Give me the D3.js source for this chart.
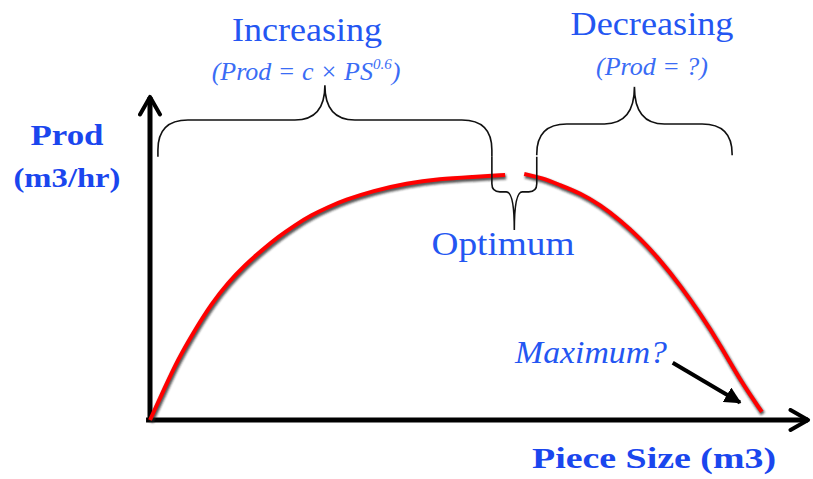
<!DOCTYPE html>
<html lang="en">
<head>
<meta charset="UTF-8">
<title>Prod vs Piece Size</title>
<script src="https://d3js.org/d3.v7.min.js"></script>
<style>
  body { margin: 0; background: #fff; }
</style>
</head>
<body>
<div id="chart"></div>
<script>
// curve values, in percent of each axis length
const risingSize = [0, 2.3, 4.2, 6.8, 9.4, 11.8, 14.4, 17.0, 19.4, 22.0, 24.5, 27.0, 29.5, 33.8, 38.9, 43.9, 48.9, 53.8];
const risingProd = [0, 10.2, 18.5, 27.7, 36.0, 42.2, 47.7, 52.3, 56.3, 60.0, 63.1, 65.5, 67.7, 70.5, 72.9, 74.2, 74.8, 75.4];
const fallingSize = [56.7, 59.4, 62.1, 65.2, 68.2, 71.2, 74.2, 77.3, 80.3, 83.3, 86.4, 89.4, 92.7];
const fallingProd = [75.7, 74.5, 72.3, 69.8, 66.2, 61.5, 56.0, 49.2, 41.5, 32.9, 23.1, 12.3, 2.5];

// braces: [from, to] in x (percent)
const braceLeft = [1.2, 51.8];
const braceRight = [58.6, 88.2];
const braceOptimum = [51.8, 58.6];

const width = 813, height = 479;
const serif = "'Liberation Serif', 'Times New Roman', Times, serif";
const blue = "#2456f2";
const boldBlue = "#1a46ee";

const x = d3.scaleLinear().domain([0, 100]).range([150, 810]);
const y = d3.scaleLinear().domain([0, 100]).range([420, 95]);

const svg = d3.select("#chart").append("svg")
  .attr("width", width)
  .attr("height", height);

const defs = svg.append("defs");
defs.append("filter").attr("id", "blur")
  .append("feGaussianBlur").attr("stdDeviation", 0.9);

defs.append("marker")
  .attr("id", "chev")
  .attr("viewBox", "0 0 10 10")
  .attr("refX", 8).attr("refY", 5)
  .attr("markerWidth", 5).attr("markerHeight", 5)
  .attr("markerUnits", "strokeWidth")
  .attr("orient", "auto")
  .append("path")
  .attr("d", "M1,1 L8,5 L1,9")
  .attr("fill", "none")
  .attr("stroke", "#000")
  .attr("stroke-width", 1.6)
  .attr("stroke-linecap", "round")
  .attr("stroke-linejoin", "round");

defs.append("marker")
  .attr("id", "tri")
  .attr("viewBox", "0 0 10 10")
  .attr("refX", 9).attr("refY", 5)
  .attr("markerWidth", 4.2).attr("markerHeight", 4.2)
  .attr("markerUnits", "strokeWidth")
  .attr("orient", "auto")
  .append("path")
  .attr("d", "M0,0 L10,5 L0,10 Z")
  .attr("fill", "#000");

// axes, without ticks
const xAxis = svg.append("g")
  .attr("transform", `translate(0,${y(0)})`)
  .call(d3.axisBottom(x).tickValues([]).tickSizeOuter(0));
const yAxis = svg.append("g")
  .attr("transform", `translate(${x(0)},0)`)
  .call(d3.axisLeft(y).tickValues([]).tickSizeOuter(0));

xAxis.select(".domain")
  .attr("d", `M${x(-0.6)},0 H${x(99.7)}`)
  .attr("stroke-width", 5)
  .attr("marker-end", "url(#chev)");
yAxis.select(".domain")
  .attr("d", `M0,${y(-0.6)} V${y(99.4)}`)
  .attr("stroke-width", 5)
  .attr("marker-end", "url(#chev)");

// production curve
const line = d3.line()
  .x(d => x(d[0]))
  .y(d => y(d[1]))
  .curve(d3.curveBasis);

const rising = d3.zip(risingSize, risingProd);
const falling = d3.zip(fallingSize, fallingProd);

[rising, falling].forEach(pts => {
  svg.append("path")
    .attr("d", line(pts))
    .attr("fill", "none")
    .attr("stroke", "#222")
    .attr("stroke-opacity", 0.75)
    .attr("stroke-width", 5)
    .attr("filter", "url(#blur)")
    .attr("transform", "translate(1,2)");
  svg.append("path")
    .attr("d", line(pts))
    .attr("fill", "none")
    .attr("stroke", "#ff0000")
    .attr("stroke-width", 4);
});

// curly brace between x1 and x2, arms end at yEnd, bar at yBar, tip at yTip
function brace(x1, x2, yEnd, yBar, yTip, r) {
  const xm = (x1 + x2) / 2;
  const s = yBar > yEnd ? 1 : -1;
  const p = d3.path();
  p.moveTo(x1, yEnd);
  p.lineTo(x1, yBar - s * r);
  p.quadraticCurveTo(x1, yBar, x1 + r, yBar);
  p.lineTo(xm - r, yBar);
  p.bezierCurveTo(xm - r * 0.3, yBar, xm, yBar + (yTip - yBar) * 0.35, xm, yTip);
  p.bezierCurveTo(xm, yBar + (yTip - yBar) * 0.35, xm + r * 0.3, yBar, xm + r, yBar);
  p.lineTo(x2 - r, yBar);
  p.quadraticCurveTo(x2, yBar, x2, yBar - s * r);
  p.lineTo(x2, yEnd);
  return p.toString();
}

const braceStyle = sel => sel.attr("fill", "none").attr("stroke", "#111").attr("stroke-width", 1.6);

svg.append("path")
  .attr("d", brace(x(braceLeft[0]), x(braceLeft[1]), y(81), y(92.3), y(103), 30))
  .call(braceStyle);
svg.append("path")
  .attr("d", brace(x(braceRight[0]), x(braceRight[1]), y(81.5), y(91.1), y(102.5), 30))
  .call(braceStyle);
svg.append("path")
  .attr("d", brace(x(braceOptimum[0]), x(braceOptimum[1]), y(81), y(70.2), y(58.5), 8))
  .call(braceStyle);

// labels
function label(txt, cx, by, size, opts = {}) {
  const t = svg.append("text")
    .attr("x", cx).attr("y", by)
    .attr("text-anchor", "middle")
    .attr("font-family", serif)
    .attr("font-size", size)
    .attr("fill", opts.fill || blue)
    .attr("font-weight", opts.bold ? "bold" : "normal")
    .attr("font-style", opts.italic ? "italic" : "normal")
    .text(txt);
  if (opts.len) t.attr("textLength", opts.len).attr("lengthAdjust", "spacingAndGlyphs");
  return t;
}

label("Increasing", 307, 41, 34, { len: 150 });
const f = svg.append("text")
  .attr("x", 306).attr("y", 80)
  .attr("text-anchor", "middle")
  .attr("font-family", serif)
  .attr("font-size", 26)
  .attr("font-style", "italic")
  .attr("fill", "#3a6cf5");
f.append("tspan").text("(Prod = c \u00d7 PS");
f.append("tspan").attr("font-size", 15).attr("dy", -11).text("0.6");
f.append("tspan").attr("dy", 11).text(")");

label("Decreasing", 652, 35, 34, { len: 163 });
label("(Prod = ?)", 652, 75, 26, { italic: true, fill: "#3a6cf5", len: 112 });
label("Optimum", 503, 255, 33, { len: 143 });
label("Maximum?", 591, 363, 32, { italic: true, len: 152 });

label("Prod", 67, 145, 30, { bold: true, fill: boldBlue, len: 73 });
label("(m3/hr)", 67, 187, 28, { bold: true, fill: boldBlue, len: 107 });
label("Piece Size (m3)", 654, 468, 30, { bold: true, fill: boldBlue, len: 244 });

// pointer to the maximum
svg.append("line")
  .attr("x1", x(79.2)).attr("y1", y(17.6))
  .attr("x2", x(89.4)).attr("y2", y(5.4))
  .attr("stroke", "#000")
  .attr("stroke-width", 4)
  .attr("marker-end", "url(#tri)");
</script>
</body>
</html>
